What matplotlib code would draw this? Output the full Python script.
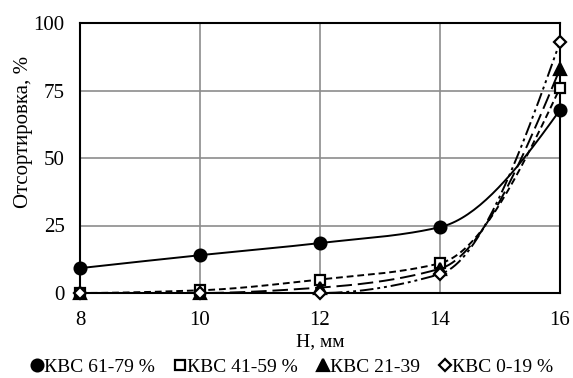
import numpy as np
import matplotlib
matplotlib.use('Agg')
import matplotlib.pyplot as plt

plt.rcParams['font.family'] = ['Liberation Serif', 'DejaVu Serif']

h_mm = [8, 10, 12, 14, 16]
kvs_61_79 = [9.2, 14, 18.5, 24.4, 67.8]
kvs_41_59 = [0, 1, 5, 11, 76]
kvs_21_39 = [0, 0, 2, 9, 83]
kvs_0_19 = [0, 0, 0, 7, 93]

labels = ['КВС 61-79 %', 'КВС 41-59 %', 'КВС 21-39', 'КВС 0-19 %']


def smooth(x, y, n=40):
    # monotone cubic (pchip-like) for the smoothed lines
    x = np.asarray(x, float)
    y = np.asarray(y, float)
    h = np.diff(x)
    d = np.diff(y) / h
    m = np.zeros_like(y)
    for k in range(1, len(x) - 1):
        if d[k - 1] * d[k] > 0:
            w1 = 2 * h[k] + h[k - 1]
            w2 = h[k] + 2 * h[k - 1]
            m[k] = (w1 + w2) / (w1 / d[k - 1] + w2 / d[k])
    for i, (a, b, ha, hb) in ((0, (d[0], d[1], h[0], h[1])),
                              (-1, (d[-1], d[-2], h[-1], h[-2]))):
        e = ((2 * ha + hb) * a - ha * b) / (ha + hb)
        if np.sign(e) != np.sign(a):
            e = 0
        elif np.sign(a) != np.sign(b) and abs(e) > 3 * abs(a):
            e = 3 * a
        m[i] = e
    xs, ys = [], []
    t = np.linspace(0, 1, n)
    for k in range(len(x) - 1):
        h00 = 2 * t ** 3 - 3 * t ** 2 + 1
        h10 = t ** 3 - 2 * t ** 2 + t
        h01 = -2 * t ** 3 + 3 * t ** 2
        h11 = t ** 3 - t ** 2
        xs.extend(x[k] + t * h[k])
        ys.extend(h00 * y[k] + h10 * h[k] * m[k] + h01 * y[k + 1] + h11 * h[k] * m[k + 1])
    return np.array(xs), np.array(ys)


fig = plt.figure(figsize=(5.73, 3.78), dpi=100)
ax = fig.add_axes([80 / 573, 1 - 293 / 378, 480 / 573, 270 / 378])

series = [
    (kvs_61_79, '-', 'o', 'black', 8.5),
    (kvs_41_59, (0, (3.5, 2)), 's', 'white', 7.5),
    (kvs_21_39, (0, (8, 3)), '^', 'black', 8.5),
    (kvs_0_19, (0, (7, 2, 1.5, 2, 1.5, 2)), 'D', 'white', 6.5),
]

handles = []
for (vals, ls, mk, fc, ms), lab in zip(series, labels):
    sx, sy = smooth(h_mm, vals)
    ax.plot(sx, sy, color='black', lw=1.4, ls=ls, zorder=3)
    h, = ax.plot(h_mm, vals, ls='none', marker=mk, ms=ms, mfc=fc, mec='black',
                 mew=1.6, zorder=4, clip_on=False, label=lab)
    handles.append(h)

ax.set_xlim(8, 16)
ax.set_ylim(0, 100)
ax.set_xticks([8, 10, 12, 14, 16])
ax.set_yticks([0, 25, 50, 75, 100])
ax.grid(True, color='#8c8c8c', lw=1.2)
ax.set_axisbelow(True)
for s in ax.spines.values():
    s.set_linewidth(1.5)
ax.tick_params(length=0, labelsize=15)
ax.tick_params(axis='x', pad=13)
ax.tick_params(axis='y', pad=11)
ax.set_xlabel('Н, мм', fontsize=14)
ax.xaxis.set_label_coords(0.5, (293 - 333) / 270)
ax.set_ylabel('Отсортировка, %', fontsize=15)
ax.yaxis.set_label_coords((33 - 80) / 480, (293 - 132) / 270)

fig.legend(handles=handles, loc='center', bbox_to_anchor=(0.51, 1 - 367 / 378),
           ncol=4, frameon=False, fontsize=14, handlelength=0.6,
           handletextpad=0.05, columnspacing=1.0, borderaxespad=0)

fig.savefig('out.png', dpi=100)
